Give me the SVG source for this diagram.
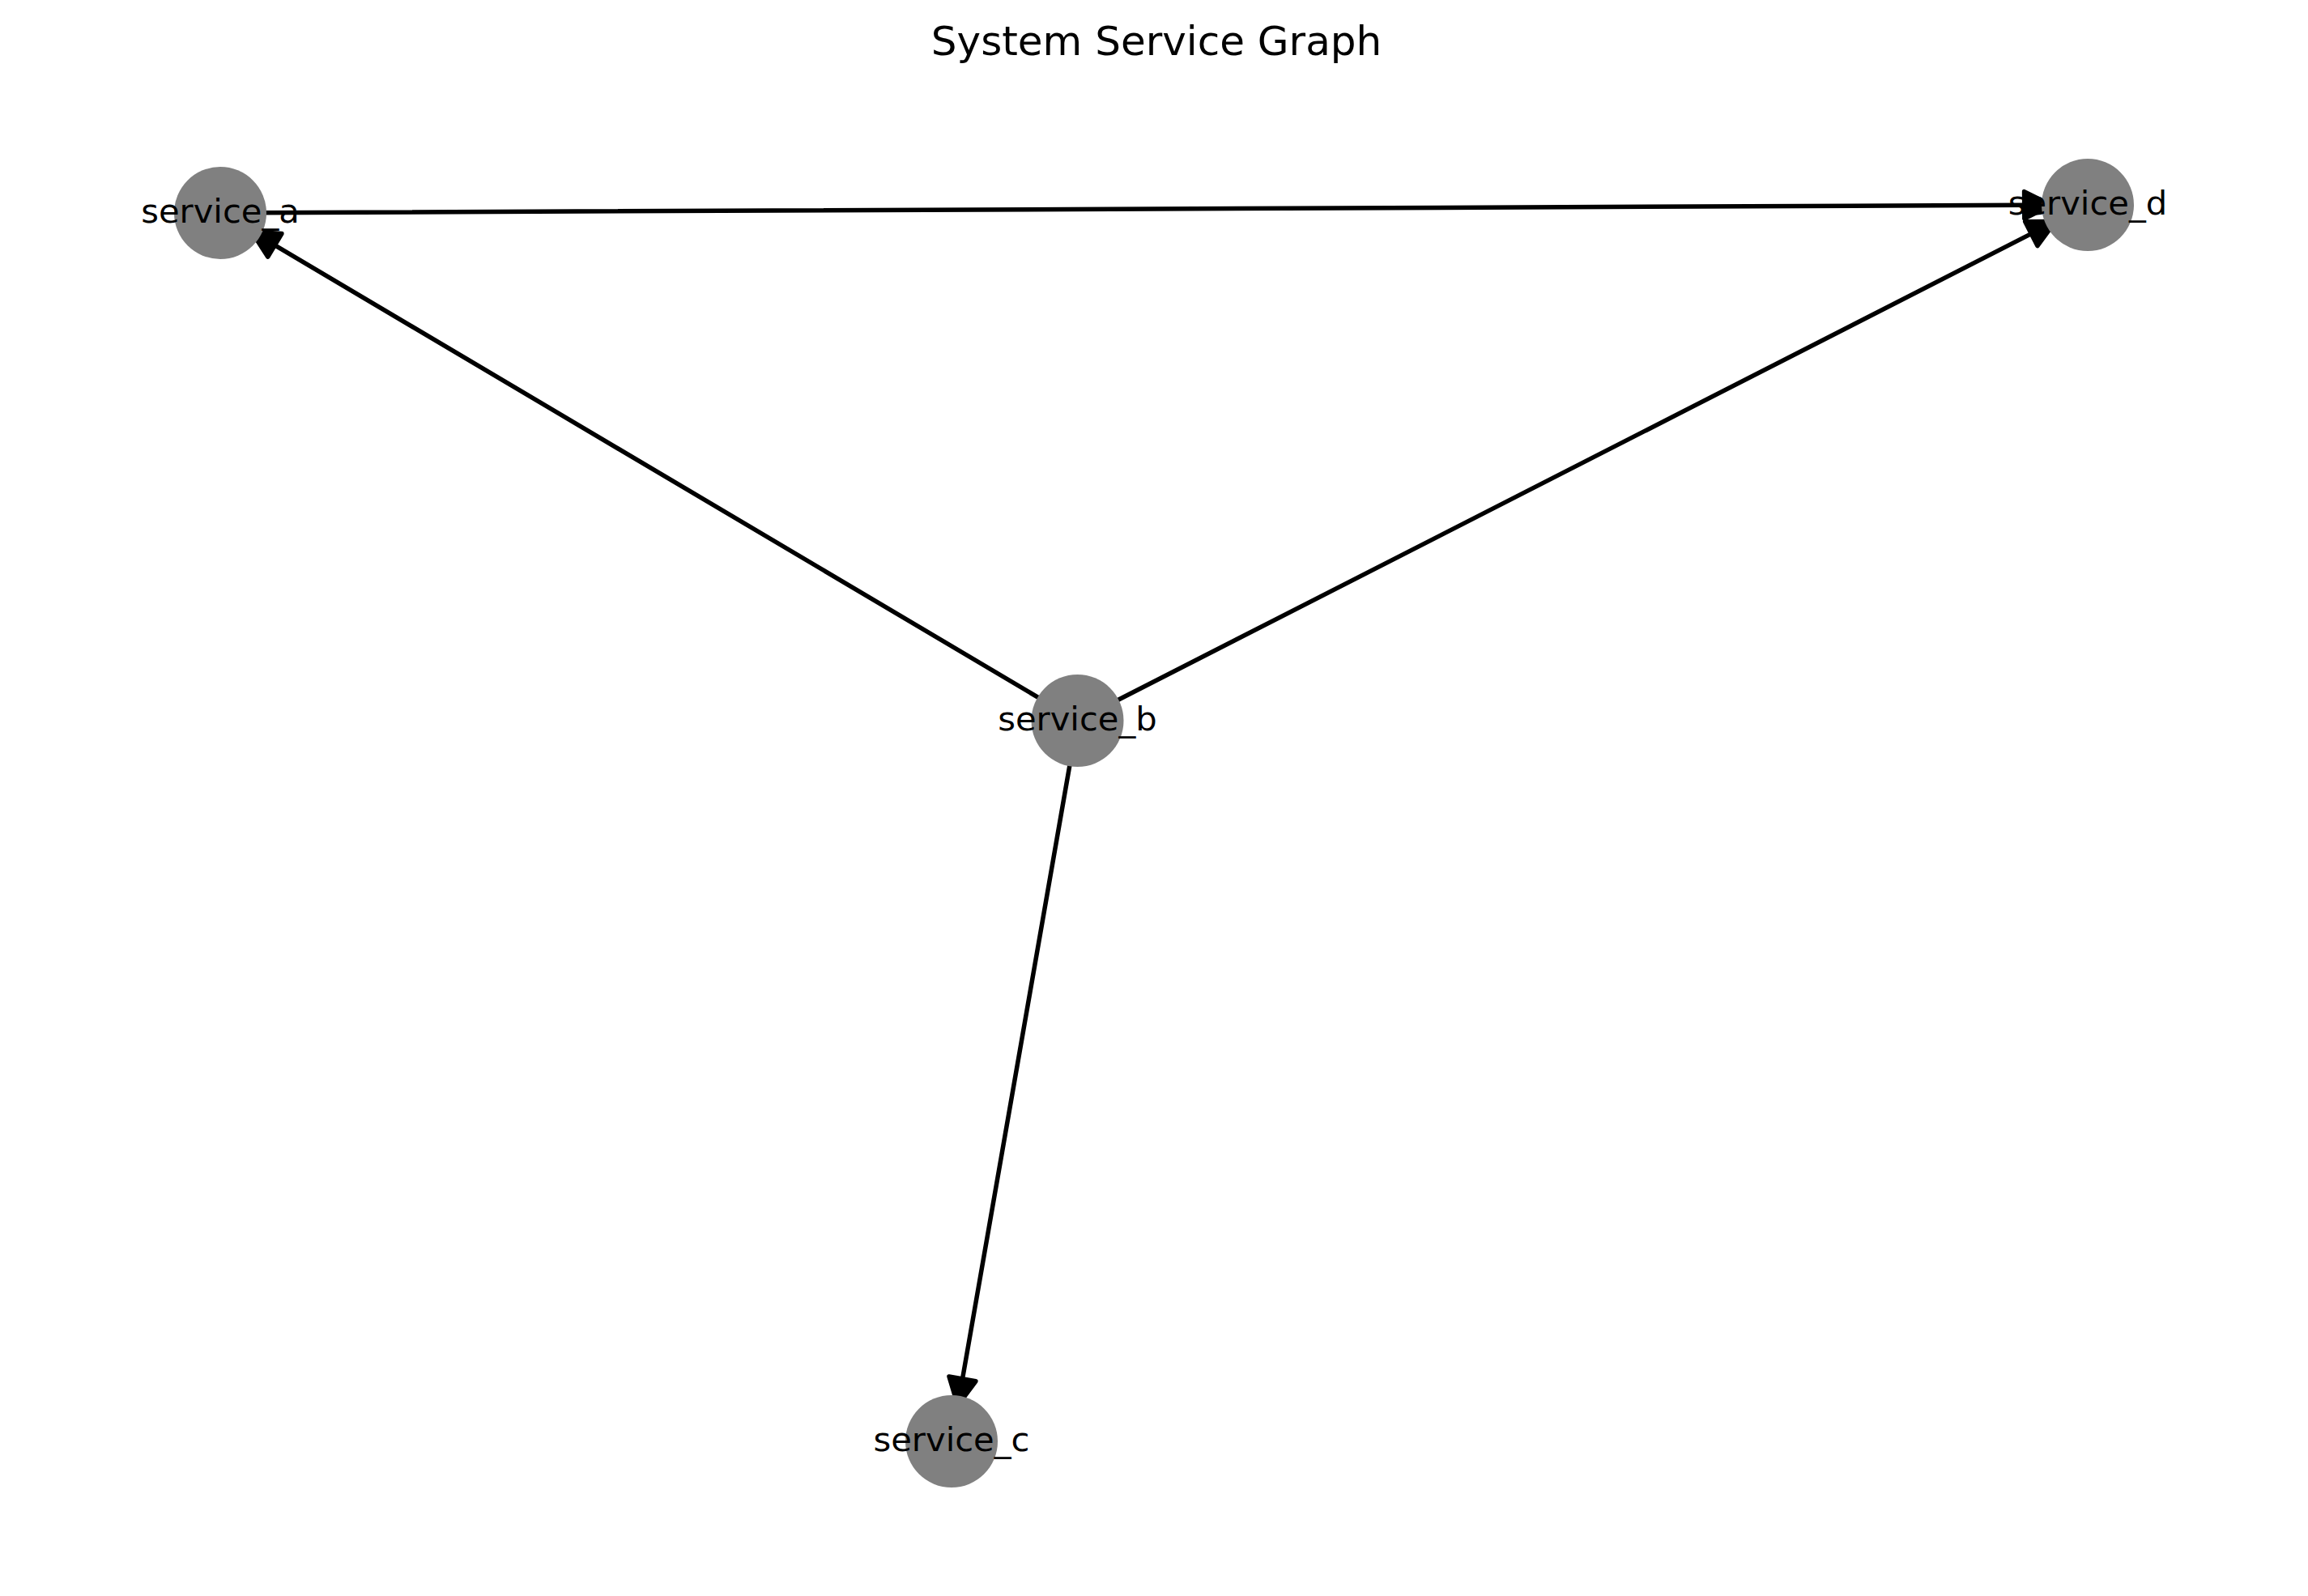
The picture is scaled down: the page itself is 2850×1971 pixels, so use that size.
<svg xmlns="http://www.w3.org/2000/svg" width="2850" height="1971" viewBox="0 0 2850 1971">
<style>
.edge{stroke:#000;stroke-width:5.5;fill:none;stroke-linecap:round}
.head{fill:#000;stroke:#000;stroke-width:5.5;stroke-linejoin:round}
.node{fill:#808080}
.label{font-family:"DejaVu Sans","Liberation Sans",sans-serif;font-size:41.67px;fill:#000;text-anchor:middle}
.title{font-family:"DejaVu Sans","Liberation Sans",sans-serif;font-size:50px;fill:#000;text-anchor:middle}
</style>
<rect width="2850" height="1971" fill="#fff"/>
<text class="title" x="1428" y="68">System Service Graph</text>
<g id="connectors">
  <g id="edge-b-a">
    <line class="edge" x1="1291.8" y1="867.1" x2="339.4" y2="302.9"/>
    <polygon class="head" points="310.7,285.9 347.9,288.5 330.8,317.2"/>
  </g>
  <g id="edge-b-d">
    <line class="edge" x1="1370.6" y1="869.5" x2="2508.3" y2="288.6"/>
    <polygon class="head" points="2537.9,273.5 2515.9,303.5 2500.7,273.8"/>
  </g>
  <g id="edge-b-c">
    <line class="edge" x1="1322.8" y1="934.3" x2="1188.5" y2="1702.9"/>
    <polygon class="head" points="1182.7,1735.7 1172.0,1700.0 1204.9,1705.8"/>
  </g>
  <g id="edge-a-d">
    <line class="edge" x1="317" y1="262.8" x2="2499.7" y2="253.3"/>
    <polygon class="head" points="2533,253.2 2499.8,270.0 2499.6,236.6"/>
  </g>
</g>
<g id="node-service_a">
  <circle class="node" cx="272" cy="263" r="57"/>
  <text class="label" x="272" y="275">service_a</text>
</g>
<g id="node-service_b">
  <circle class="node" cx="1330.5" cy="890" r="57"/>
  <text class="label" x="1330.5" y="902">service_b</text>
</g>
<g id="node-service_c">
  <circle class="node" cx="1175" cy="1780" r="57"/>
  <text class="label" x="1175" y="1792">service_c</text>
</g>
<g id="node-service_d">
  <circle class="node" cx="2578" cy="253" r="57"/>
  <text class="label" x="2578" y="265">service_d</text>
</g>
</svg>
